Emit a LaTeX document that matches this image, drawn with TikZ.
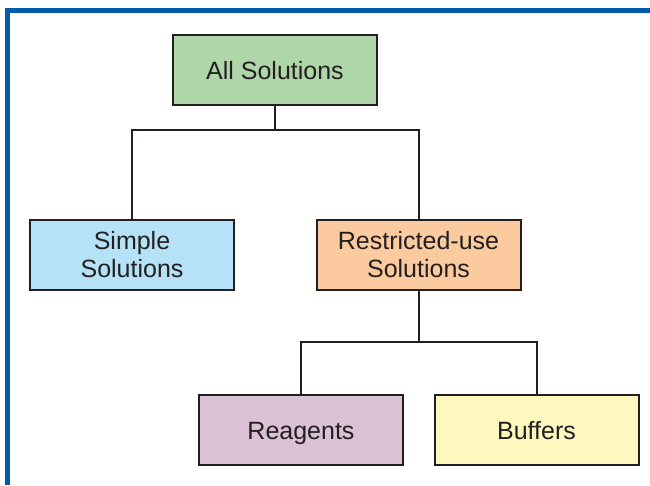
\documentclass[tikz,border=0pt]{standalone}
\usepackage{fontspec}
\setmainfont{Liberation Sans}
\usepackage{tikz}

\definecolor{frameblue}{HTML}{005BAA}
\definecolor{inkgray}{HTML}{231F20}
\definecolor{allgreen}{HTML}{AED6A8}
\definecolor{simpleblue}{HTML}{B5E2F6}
\definecolor{restrorange}{HTML}{FBCB9F}
\definecolor{reagpurple}{HTML}{DBC1D6}
\definecolor{bufyellow}{HTML}{FFF8BE}

\begin{document}
\begin{tikzpicture}[x=1pt,y=-1pt,
	box/.style={draw=inkgray,line width=2pt,minimum width=204pt,minimum height=70pt,
		align=center,text=inkgray,font=\fontsize{25}{28}\selectfont},
	oneline/.style={box,text height=18pt,text depth=0pt},
	link/.style={draw=inkgray,line width=2pt}]
	\useasboundingbox (0,0) rectangle (650,485);
	% frame
	\draw[frameblue,line width=5pt] (7.5,485) -- (7.5,10.5) -- (650,10.5);
	% boxes
	\node[oneline,fill=allgreen] (all) at (275,70) {All Solutions};
	\node[box,fill=simpleblue] (simple) at (132,255) {Simple\\Solutions};
	\node[box,fill=restrorange] (restr) at (418.5,255) {Restricted-use\\Solutions};
	\node[oneline,fill=reagpurple] (reag) at (301,430) {Reagents};
	\node[oneline,fill=bufyellow] (buf) at (536.5,430) {Buffers};
	\coordinate (j1) at (275,130);
	\coordinate (j2) at (418.5,342);
	% tree lines
	\draw[link] (all.south) -- (j1);
	\draw[link] (simple.north) |- (j1) -| (restr.north);
	\draw[link] (restr.south) -- (j2);
	\draw[link] (reag.north) |- (j2) -| (buf.north);
\end{tikzpicture}
\end{document}
